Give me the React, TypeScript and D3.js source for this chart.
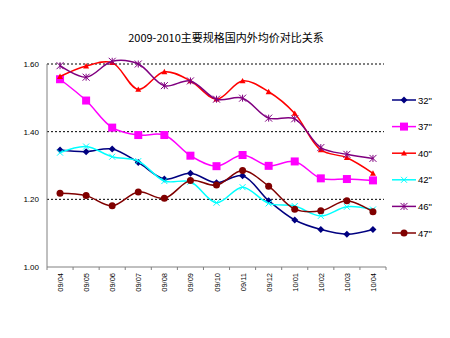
import React from "react";
import * as d3 from "d3";

const categories = ["09/04","09/05","09/06","09/07","09/08","09/09","09/10","09/11","09/12","10/01","10/02","10/03","10/04"];
const s32 = [1.346,1.341,1.349,1.309,1.26,1.277,1.249,1.27,1.196,1.139,1.111,1.097,1.111];
const s37 = [1.555,1.492,1.412,1.39,1.39,1.329,1.298,1.331,1.299,1.312,1.262,1.26,1.256];
const s40 = [1.563,1.594,1.604,1.525,1.577,1.55,1.496,1.55,1.518,1.454,1.346,1.323,1.277];
const s42 = [1.338,1.356,1.326,1.313,1.254,1.252,1.19,1.236,1.188,1.18,1.151,1.178,1.17];
const s46 = [1.595,1.561,1.608,1.6,1.536,1.55,1.496,1.499,1.44,1.438,1.353,1.333,1.321];
const s47 = [1.218,1.211,1.181,1.222,1.203,1.256,1.242,1.285,1.239,1.171,1.166,1.196,1.163];
const yTicks = [1.0, 1.2, 1.4, 1.6];
const title = "2009-2010主要规格国内外均价对比关系";

const series = [
  { name: "32\"", values: s32, color: "#000080", marker: "diamond" },
  { name: "37\"", values: s37, color: "#FF00FF", marker: "square" },
  { name: "40\"", values: s40, color: "#FF0000", marker: "triangle" },
  { name: "42\"", values: s42, color: "#00FFFF", marker: "x" },
  { name: "46\"", values: s46, color: "#800080", marker: "star" },
  { name: "47\"", values: s47, color: "#800000", marker: "circle" },
];

function Marker({ type, x, y, color }: { type: string; x: number; y: number; color: string }) {
  if (type === "diamond") {
    const r = 3.5;
    return <path d={`M${x},${y - r}L${x + r},${y}L${x},${y + r}L${x - r},${y}Z`} fill={color} />;
  }
  if (type === "square") {
    const r = 4;
    return <rect x={x - r} y={y - r} width={2 * r} height={2 * r} fill={color} />;
  }
  if (type === "triangle") {
    const r = 3;
    return <path d={`M${x},${y - r}L${x + r},${y + r * 0.8}L${x - r},${y + r * 0.8}Z`} fill={color} />;
  }
  if (type === "x") {
    const r = 3;
    return <path d={`M${x - r},${y - r}L${x + r},${y + r}M${x - r},${y + r}L${x + r},${y - r}`} stroke={color} strokeWidth={1} />;
  }
  if (type === "star") {
    const r = 3.5;
    return <path d={`M${x - r},${y - r}L${x + r},${y + r}M${x - r},${y + r}L${x + r},${y - r}M${x},${y - r}L${x},${y + r}`} stroke={color} strokeWidth={1} />;
  }
  return <circle cx={x} cy={y} r={3.5} fill={color} />;
}

export default function App() {
  const W = 450, H = 338;
  const left = 47, right = 386, top = 64, bottom = 267;
  const x = d3.scaleBand().domain(categories).range([left, right]);
  const y = d3.scaleLinear().domain([1.0, 1.6]).range([bottom, top]);
  const cx = (c: string) => (x(c) as number) + x.bandwidth() / 2;
  const line = d3.line<number>()
    .x((_, i) => cx(categories[i]))
    .y((d) => y(d))
    .curve(d3.curveCatmullRom.alpha(0.5));
  const font = "Arial, 'Liberation Sans', sans-serif";
  return (
    <svg width={W} height={H} style={{ position: "absolute", left: 0, top: 0, background: "#fff" }}>
      <text x={226} y={42} textAnchor="middle" fontSize={11} fontFamily="'Noto Sans CJK SC', sans-serif" fill="#000">{title}</text>
      {yTicks.map((t) => (
        <g key={t}>
          {t > 1.0 && <line x1={left} x2={right - 2} y1={y(t)} y2={y(t)} stroke="#000" strokeWidth={1} strokeDasharray="2,2" />}
          <text x={39} y={y(t) + 3} textAnchor="end" fontSize={8} fontFamily={font} fill="#000">{t.toFixed(2)}</text>
        </g>
      ))}
      <line x1={left} x2={left} y1={top} y2={bottom} stroke="#808080" strokeWidth={1} />
      <line x1={left} x2={right} y1={bottom} y2={bottom} stroke="#808080" strokeWidth={1} />
      {categories.map((c, i) => (
        <line key={"t" + c} x1={left + i * x.step()} x2={left + i * x.step()} y1={bottom} y2={bottom + 3} stroke="#808080" />
      ))}
      <line x1={right} x2={right} y1={bottom} y2={bottom + 3} stroke="#808080" />
      {categories.map((c) => (
        <text key={c} transform={`translate(${cx(c) + 3},${273}) rotate(-90)`} textAnchor="end" fontSize={7.5} fontFamily={font} fill="#000">{c}</text>
      ))}
      {series.map((s) => (
        <g key={s.name}>
          <path d={line(s.values) || ""} fill="none" stroke={s.color} strokeWidth={1.5} />
          {s.values.map((v, i) => (
            <Marker key={i} type={s.marker} x={cx(categories[i])} y={y(v)} color={s.color} />
          ))}
        </g>
      ))}
      {series.map((s, i) => {
        const ly = 100 + i * 26.6;
        return (
          <g key={"lg" + s.name}>
            <line x1={392} x2={416} y1={ly} y2={ly} stroke={s.color} strokeWidth={1.5} />
            <Marker type={s.marker} x={404} y={ly} color={s.color} />
            <text x={418} y={ly + 3.5} fontSize={9.5} fontFamily={font} fill="#000">{s.name}</text>
          </g>
        );
      })}
    </svg>
  );
}
